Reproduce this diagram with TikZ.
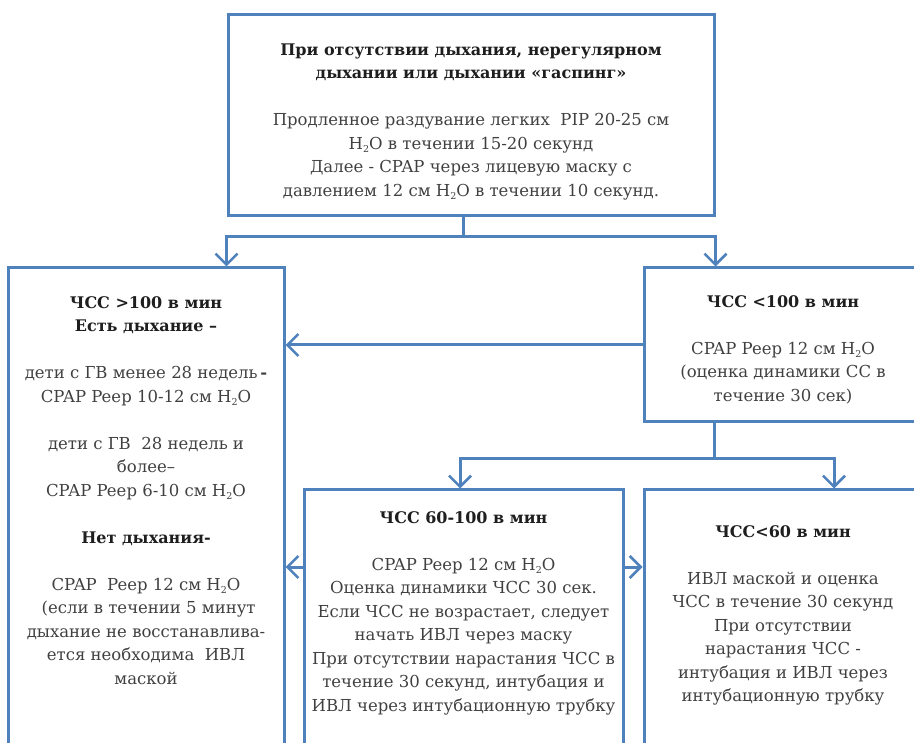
\documentclass[tikz,border=0pt]{standalone}
\usepackage{fontspec}
\setmainfont{DejaVu Serif}
\usetikzlibrary{arrows.meta,calc}
\definecolor{boxblue}{HTML}{4F81BD}
\definecolor{txtgray}{HTML}{404040}
\definecolor{txtdark}{HTML}{1E1E1E}
\newcommand\hto{H\raisebox{-0.35ex}{\fontsize{9.5}{9.5}\selectfont 2}O}
\newcommand\fl{\rule{0pt}{12.5pt}}
\newcommand\bl{\\[23.5pt]}
\newcommand\hdt[1]{{\color{txtdark}\fontsize{16}{23.5}\selectfont\bfseries #1}}
\tikzset{
  boxnode/.style={draw=boxblue,line width=3pt,inner sep=0pt,rectangle},
  txt/.style={inner sep=0pt,anchor=north,align=center,text=txtgray,
    font=\fontsize{16.5}{23.5}\selectfont},
  arr/.style={draw=boxblue,line width=3pt,-{Straight Barb[length=11pt,width=22pt,line width=2.6pt]}},
  ln/.style={draw=boxblue,line width=3pt}
}
\begin{document}
\begin{tikzpicture}[x=1pt,y=-1pt]
\useasboundingbox (0,0) rectangle (914,743);
\clip (0,0) rectangle (914,743);
% boxes
\node[boxnode,minimum width=486pt,minimum height=201pt] (top) at (471,115.5) {};
\node[boxnode,minimum width=276pt,minimum height=500pt] (lbox) at (146,518) {};
\node[boxnode,minimum width=278pt,minimum height=154pt] (rbox) at (783,345) {};
\node[boxnode,minimum width=319pt,minimum height=280pt] (mbox) at (463.5,630) {};
\node[boxnode,minimum width=278pt,minimum height=280pt] (bbox) at (783,630) {};
% texts
\node[txt] (ttop) at (471,42.5) {\fl\hdt{При отсутствии дыхания, нерегулярном}\\
\hdt{дыхании или дыхании «гаспинг»}\bl
Продленное раздувание легких\ \ PIP 20-25 см\\
\hto{} в течении 15-20 секунд\\
Далее - CPAP через лицевую маску с\\
давлением 12 см \hto{} в течении 10 секунд.};
\node[txt] (tl) at (146,295.5) {\fl\hdt{ЧСС >100 в мин}\\
\hdt{Есть дыхание –}\bl
дети с ГВ менее 28 недель\,{\bfseries -}\\
CPAP Peep 10-12 см \hto\bl
дети с ГВ\ \ 28 недель и\\
более–\\
CPAP Peep 6-10 см \hto\bl
\hdt{Нет дыхания-}\bl
CPAP\ \ Peep 12 см \hto\\
\ (если в течении 5 минут\\
дыхание не восстанавлива-\\
ется необходима\ \ ИВЛ\\
маской};
\node[txt] (tr) at (783,294.5) {\fl\hdt{ЧСС <100 в мин}\bl
CPAP Peep 12 см \hto\\
(оценка динамики СС в\\
течение 30 сек)};
\node[txt] (tm) at (463.5,510.5) {\fl\hdt{ЧСС 60-100 в мин}\bl
CPAP Peep 12 см \hto\\
Оценка динамики ЧСС 30 сек.\\
Если ЧСС не возрастает, следует\\
начать ИВЛ через маску\\
При отсутствии нарастания ЧСС в\\
течение 30 секунд, интубация и\\
ИВЛ через интубационную трубку};
\node[txt] (tb) at (783,524.5) {\fl\hdt{ЧСС<60 в мин}\bl
ИВЛ маской и оценка\\
ЧСС в течение 30 секунд\\
При отсутствии\\
нарастания ЧСС -\\
интубация и ИВЛ через\\
интубационную трубку};
% connectors
\coordinate (j1) at (463,237);
\draw[ln] (top.south -| j1) -- (j1);
\draw[arr] (j1) -| (top.west |- lbox.north);
\draw[arr] (j1) -| (top.east |- rbox.north);
\draw[arr] (rbox.west) -- (rbox.west -| lbox.east);
\coordinate (j2) at (714,459);
\draw[ln] (rbox.south -| j2) -- (j2);
\draw[arr] (j2) -| (460,0 |- mbox.north);
\draw[arr] (j2) -| (834,0 |- bbox.north);
\coordinate (j3) at (0,567);
\draw[arr] (mbox.west |- j3) -- (lbox.east |- j3);
\draw[arr] (mbox.east |- j3) -- (bbox.west |- j3);
\end{tikzpicture}
\end{document}
